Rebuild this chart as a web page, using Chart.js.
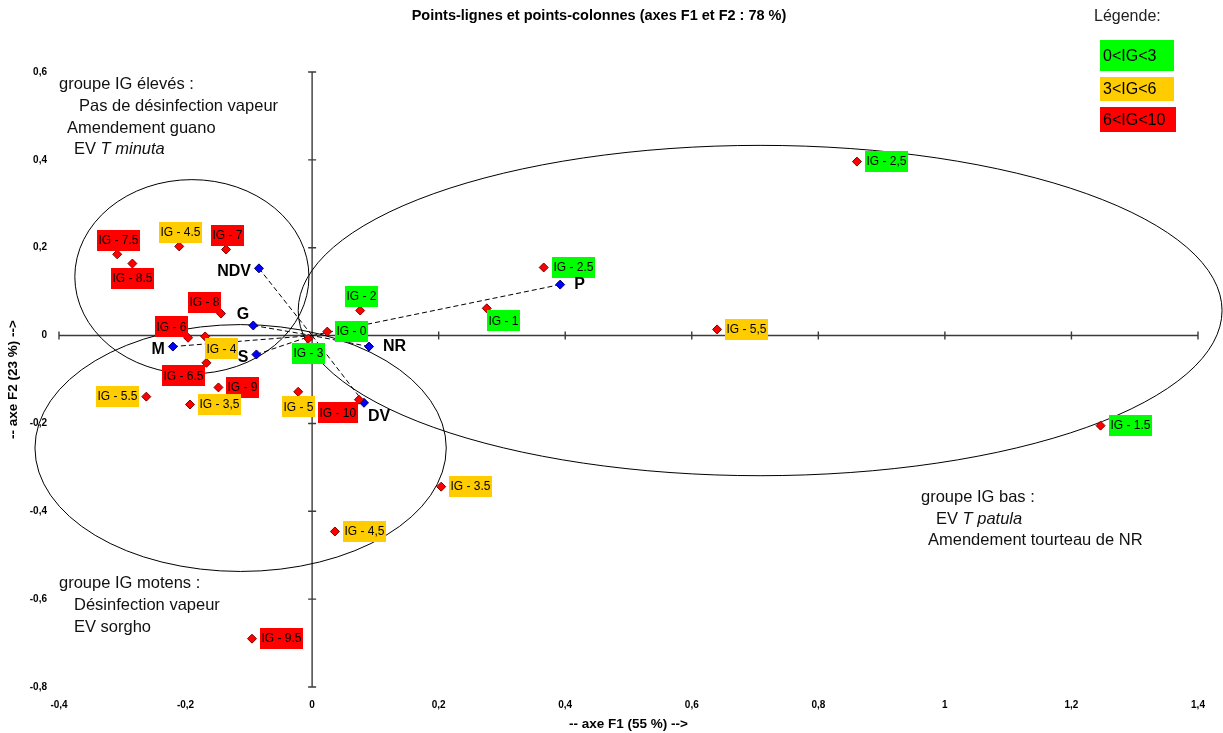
<!DOCTYPE html>
<html>
<head>
<meta charset="utf-8">
<script src="https://cdn.jsdelivr.net/npm/chart.js@4.4.1/dist/chart.umd.min.js"></script>
<style>
  html, body { margin: 0; padding: 0; background: #fff; }
  #wrap { width: 1223px; height: 733px; }
</style>
</head>
<body>
<div id="wrap"><canvas id="afc" width="1223" height="733"></canvas></div>
<script>
// column points (IG classes)
const igLabels = ['IG - 7.5', 'IG - 8.5', 'IG - 4.5', 'IG - 7', 'IG - 8', 'IG - 6', 'IG - 4', 'IG - 6.5',
                  'IG - 5.5', 'IG - 9', 'IG - 3,5', 'IG - 5', 'IG - 10', 'IG - 3', 'IG - 0', 'IG - 2',
                  'IG - 1', 'IG - 2.5', 'IG - 5,5', 'IG - 2,5', 'IG - 1.5', 'IG - 3.5', 'IG - 4,5', 'IG - 9.5'];
const igValues = [7.5, 8.5, 4.5, 7, 8, 6, 4, 6.5, 5.5, 9, 3.5, 5, 10, 3, 0, 2, 1, 2.5, 5.5, 2.5, 1.5, 3.5, 4.5, 9.5];
const igX = [-0.308, -0.284, -0.210, -0.136, -0.144, -0.196, -0.169, -0.167, -0.262, -0.148, -0.193, -0.022,
             0.074, -0.006, 0.024, 0.076, 0.276, 0.366, 0.640, 0.861, 1.246, 0.204, 0.036, -0.095];
const igY = [0.185, 0.164, 0.203, 0.196, 0.050, -0.005, -0.002, -0.062, -0.139, -0.118, -0.157, -0.128,
             -0.146, -0.007, 0.009, 0.057, 0.062, 0.155, 0.014, 0.396, -0.205, -0.344, -0.446, -0.690];
const igLabelSide = ['above', 'below', 'above', 'above', 'aboveLeft', 'aboveLeft', 'belowRight', 'belowLeft',
                     'left', 'right', 'right', 'below', 'belowLeft', 'below', 'right', 'above',
                     'belowRight', 'right', 'right', 'right', 'right', 'right', 'right', 'right'];

// row points (treatments)
const trtLabels = ['NDV', 'G', 'M', 'S', 'DV', 'NR', 'P'];
const trtX = [-0.084, -0.093, -0.220, -0.088, 0.082, 0.090, 0.392];
const trtY = [0.153, 0.023, -0.025, -0.043, -0.153, -0.025, 0.116];
const trtLabelSide = ['left', 'aboveLeft', 'left', 'left', 'belowRight', 'right', 'right'];

// group ellipses, centre and half-axes in axis units
const groupCx = [-0.190, 0.708, -0.113];
const groupCy = [0.134, 0.057, -0.256];
const groupRx = [0.185, 0.730, 0.325];
const groupRy = [0.221, 0.376, 0.281];

const legendLabels = ['0<IG<3', '3<IG<6', '6<IG<10'];
const classColours = ['#00ff00', '#ffcc00', '#ff0000'];

const noteHigh = [[['groupe IG élevés :', false]], [['Pas de désinfection vapeur', false]],
                  [['Amendement guano', false]], [['EV ', false], ['T minuta', true]]];
const noteMid = [[['groupe IG motens :', false]], [['Désinfection vapeur', false]], [['EV sorgho', false]]];
const noteLow = [[['groupe IG bas :', false]], [['EV ', false], ['T patula', true]],
                 [['Amendement tourteau de NR', false]]];

const FONT = '"Liberation Sans", Arial, sans-serif';

function classColour(v) {
    if (v <= 3) return classColours[0];
    if (v < 6) return classColours[1];
    return classColours[2];
}

function fmtTick(v) {
    const r = Math.round(v * 10) / 10;
    return String(r).replace('.', ',');
}

function drawRich(ctx, segs, x, y, size) {
    segs.forEach(function (s) {
        ctx.font = (s[1] ? 'italic ' : '') + size + 'px ' + FONT;
        ctx.fillText(s[0], x, y);
        x += ctx.measureText(s[0]).width;
    });
}

// axes through the origin, group ellipses
const backdrop = {
    id: 'backdrop',
    beforeDatasetsDraw(chart) {
        const ctx = chart.ctx, ca = chart.chartArea;
        const xs = chart.scales.x, ys = chart.scales.y;
        const x0 = xs.getPixelForValue(0), y0 = ys.getPixelForValue(0);
        ctx.save();
        ctx.strokeStyle = '#3a3a3a';
        ctx.lineWidth = 1.4;
        ctx.beginPath();
        ctx.moveTo(x0, ca.top); ctx.lineTo(x0, ca.bottom);
        ctx.moveTo(ca.left, y0); ctx.lineTo(ca.right, y0);
        ys.ticks.forEach(t => {
            const py = ys.getPixelForValue(t.value);
            ctx.moveTo(x0 - 4, py); ctx.lineTo(x0 + 4, py);
        });
        xs.ticks.forEach(t => {
            const px = xs.getPixelForValue(t.value);
            ctx.moveTo(px, y0 - 4); ctx.lineTo(px, y0 + 4);
        });
        ctx.stroke();

        ctx.strokeStyle = '#000';
        ctx.lineWidth = 1;
        for (let i = 0; i < groupCx.length; i++) {
            const cx = xs.getPixelForValue(groupCx[i]);
            const cy = ys.getPixelForValue(groupCy[i]);
            const rx = Math.abs(xs.getPixelForValue(groupCx[i] + groupRx[i]) - cx);
            const ry = Math.abs(ys.getPixelForValue(groupCy[i] + groupRy[i]) - cy);
            ctx.beginPath();
            ctx.ellipse(cx, cy, rx, ry, 0, 0, Math.PI * 2);
            ctx.stroke();
        }
        ctx.restore();
    }
};

// point labels, notes and legend
const overlay = {
    id: 'overlay',
    afterDatasetsDraw(chart) {
        const ctx = chart.ctx;
        ctx.save();
        ctx.textBaseline = 'middle';

        // IG labels in coloured boxes
        const igMeta = chart.getDatasetMeta(0);
        ctx.font = '12px ' + FONT;
        igMeta.data.forEach(function (pt, i) {
            const txt = igLabels[i];
            const w = ctx.measureText(txt).width + 3, h = 21;
            const x = pt.x, y = pt.y;
            let bx, cy;
            switch (igLabelSide[i]) {
                case 'left': bx = x - 7 - w; cy = y; break;
                case 'above': bx = x + 1 - w / 2; cy = y - 14; break;
                case 'below': bx = x - w / 2; cy = y + 15; break;
                case 'aboveLeft': bx = x - w; cy = y - 11; break;
                case 'belowLeft': bx = x - 1 - w; cy = y + 13; break;
                case 'belowRight': bx = x; cy = y + 12.5; break;
                default: bx = x + 8; cy = y;
            }
            ctx.fillStyle = classColour(igValues[i]);
            ctx.fillRect(Math.round(bx), Math.round(cy - h / 2), Math.round(w), h);
            ctx.fillStyle = '#000';
            ctx.textAlign = 'center';
            ctx.fillText(txt, Math.round(bx) + w / 2, cy + 0.5);
        });

        // treatment labels
        const trtMeta = chart.getDatasetMeta(1);
        ctx.font = 'bold 16px ' + FONT;
        ctx.fillStyle = '#000';
        trtMeta.data.forEach(function (pt, i) {
            const x = pt.x, y = pt.y;
            switch (trtLabelSide[i]) {
                case 'left': ctx.textAlign = 'right'; ctx.fillText(trtLabels[i], x - 8, y + 3); break;
                case 'aboveLeft': ctx.textAlign = 'right'; ctx.fillText(trtLabels[i], x - 4, y - 11); break;
                case 'belowRight': ctx.textAlign = 'left'; ctx.fillText(trtLabels[i], x + 4, y + 14); break;
                default: ctx.textAlign = 'left'; ctx.fillText(trtLabels[i], x + 14, y);
            }
        });

        // group notes
        ctx.textAlign = 'left';
        ctx.fillStyle = '#111';
        const highX = [59, 79, 67, 74], highY = [84, 106, 128, 149];
        noteHigh.forEach((l, i) => drawRich(ctx, l, highX[i], highY[i], 16.5));
        const midX = [59, 74, 74], midY = [583, 605, 627];
        noteMid.forEach((l, i) => drawRich(ctx, l, midX[i], midY[i], 16.5));
        const lowX = [921, 936, 928], lowY = [497, 519, 540];
        noteLow.forEach((l, i) => drawRich(ctx, l, lowX[i], lowY[i], 16.5));

        // legend
        ctx.font = '16px ' + FONT;
        ctx.fillStyle = '#222';
        ctx.fillText('Légende:', 1094, 17);
        const boxTop = [40, 77, 107], boxH = [31, 24, 25], boxW = [74, 74, 76];
        legendLabels.forEach(function (lab, i) {
            ctx.fillStyle = classColours[i];
            ctx.fillRect(1100, boxTop[i], boxW[i], boxH[i]);
            ctx.fillStyle = '#000';
            ctx.fillText(lab, 1103, boxTop[i] + boxH[i] / 2 + 1);
        });
        ctx.restore();
    }
};

const links = trtLabels.map(function (t, i) {
    return {
        label: 'lien ' + t,
        data: [{ x: trtX[i], y: trtY[i] }, { x: 0, y: 0 }],
        showLine: true,
        borderColor: '#000',
        borderWidth: 1,
        borderDash: [5, 3],
        pointRadius: 0,
        order: 3
    };
});

new Chart(document.getElementById('afc'), {
    type: 'scatter',
    data: {
        datasets: [{
            label: 'IG',
            data: igX.map((x, i) => ({ x: x, y: igY[i] })),
            pointStyle: 'rectRot',
            pointRadius: 4.5,
            backgroundColor: '#ff0000',
            borderColor: '#7a0000',
            borderWidth: 1,
            order: 1
        }, {
            label: 'traitements',
            data: trtX.map((x, i) => ({ x: x, y: trtY[i] })),
            pointStyle: 'rectRot',
            pointRadius: 4.5,
            backgroundColor: '#0000ff',
            borderColor: '#000070',
            borderWidth: 1,
            order: 1
        }].concat(links)
    },
    options: {
        responsive: false,
        animation: false,
        events: [],
        layout: { padding: { left: 0, right: 25, top: 0, bottom: 0 } },
        plugins: {
            legend: { display: false },
            tooltip: { enabled: false },
            title: {
                display: true,
                text: 'Points-lignes et points-colonnes (axes F1 et F2 : 78 %)',
                color: '#000',
                font: { family: FONT, size: 14.5, weight: 'bold' },
                padding: { top: 7.3, bottom: 47.3 }
            }
        },
        scales: {
            x: {
                type: 'linear',
                min: -0.4,
                max: 1.4,
                grid: { display: false, drawTicks: false },
                border: { display: false },
                ticks: {
                    stepSize: 0.2,
                    padding: 12,
                    color: '#000',
                    autoSkip: false,
                    maxRotation: 0,
                    font: { family: FONT, size: 10, weight: 'bold' },
                    callback: fmtTick
                },
                title: {
                    display: true,
                    text: '-- axe F1 (55 %) -->',
                    color: '#000',
                    font: { family: FONT, size: 13.5, weight: 'bold' },
                    padding: { top: 0, bottom: 1 }
                },
                afterFit(s) { s.height = 46; }
            },
            y: {
                type: 'linear',
                min: -0.8,
                max: 0.6,
                grid: { display: false, drawTicks: false },
                border: { display: false },
                ticks: {
                    stepSize: 0.2,
                    padding: 12,
                    color: '#000',
                    autoSkip: false,
                    font: { family: FONT, size: 10, weight: 'bold' },
                    callback: fmtTick
                },
                title: {
                    display: true,
                    text: '-- axe F2 (23 %) -->',
                    color: '#000',
                    font: { family: FONT, size: 13.5, weight: 'bold' },
                    padding: { top: 5, bottom: 0 }
                },
                afterFit(s) { s.width = 59; }
            }
        }
    },
    plugins: [backdrop, overlay]
});
</script>
</body>
</html>
